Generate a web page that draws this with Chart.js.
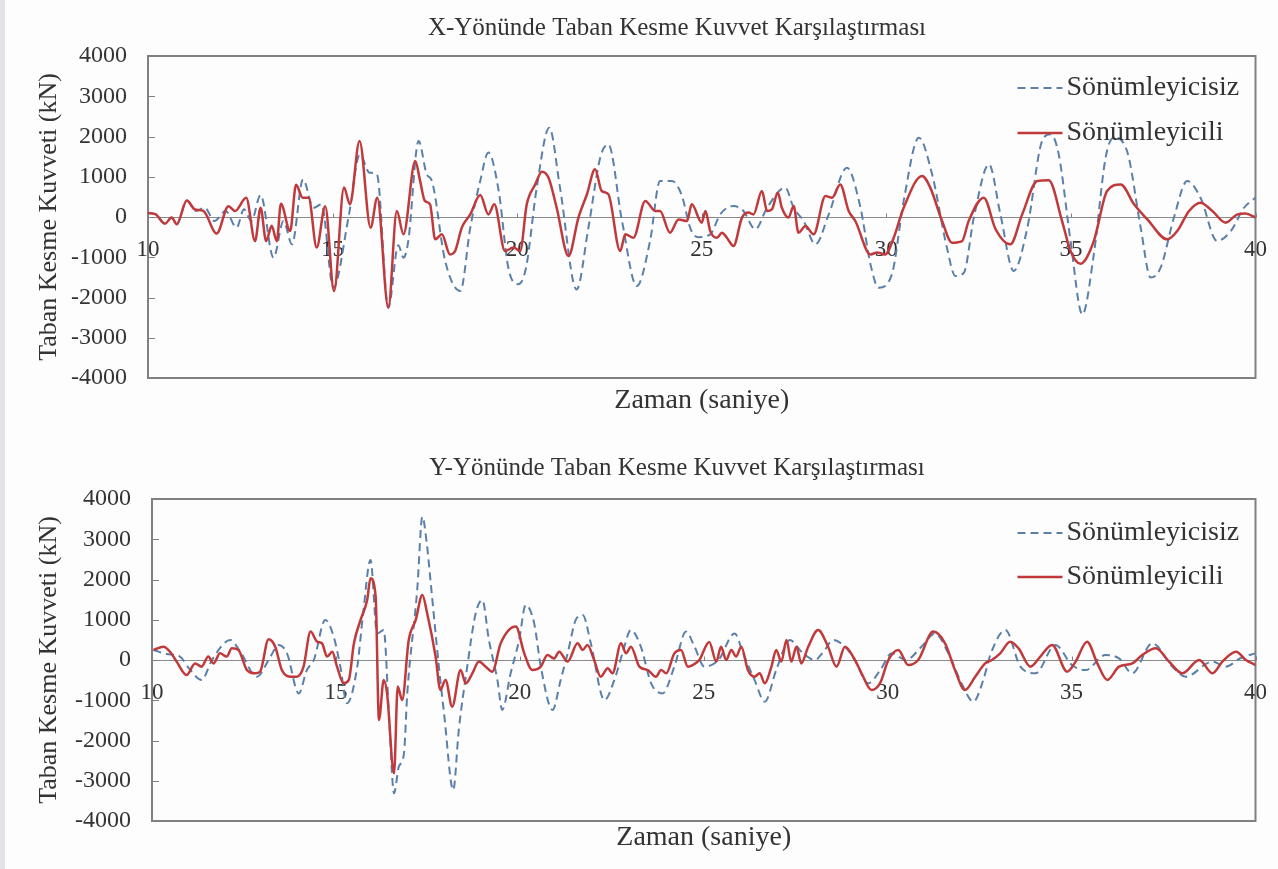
<!DOCTYPE html>
<html>
<head>
<meta charset="utf-8">
<script src="https://cdn.jsdelivr.net/npm/chart.js@4.4.1/dist/chart.umd.min.js"></script>
<style>
  body { margin: 0; width: 1278px; height: 869px; overflow: hidden; position: relative; background: #fdfdfd; }
  #edge { position: absolute; left: 0; top: 0; width: 5px; height: 869px; background: #e3e4e7; }
  .panel { position: absolute; left: 0; width: 1278px; }
</style>
</head>
<body>
<div id="edge"></div>
<div class="panel" style="top:0;height:432px"><canvas id="chartX" width="1278" height="432"></canvas></div>
<div class="panel" style="top:438px;height:431px"><canvas id="chartY" width="1278" height="431"></canvas></div>

<script>
// time (s) and base shear (kN), X direction
const xDampedTime = [
  10.0, 10.2, 10.46, 10.64, 10.78, 11.05, 11.27, 11.5, 11.86, 12.18,
  12.36, 12.66, 12.9, 13.05, 13.2, 13.35, 13.49, 13.6, 13.85, 14.01,
  14.19, 14.35, 14.57, 14.8, 15.04, 15.31, 15.47, 15.73, 16.03, 16.21,
  16.51, 16.74, 16.92, 17.24, 17.37, 17.5, 17.64, 17.78, 17.96, 18.18,
  18.32, 18.5, 18.73, 19.0, 19.22, 19.38, 19.67, 19.9, 20.08, 20.26,
  20.49, 20.67, 20.85, 21.07, 21.39, 21.66, 21.89, 22.11, 22.29, 22.47,
  22.79, 22.93, 23.15, 23.47, 23.74, 23.87, 24.14, 24.37, 24.6, 24.73,
  25.0, 25.1, 25.23, 25.41, 25.55, 25.68, 25.86, 26.09, 26.27, 26.4,
  26.63, 26.77, 26.9, 27.06, 27.17, 27.35, 27.49, 27.62, 27.81, 28.03,
  28.35, 28.53, 28.75, 28.98, 29.16, 29.57, 29.75, 29.97, 30.2, 30.47,
  30.97, 31.19, 31.51, 31.78, 32.05, 32.23, 32.64, 32.96, 33.36, 33.68,
  34.09, 34.4, 34.76, 34.99, 35.26, 35.62, 35.98, 36.35, 36.71, 37.07,
  37.61, 37.88, 38.2, 38.51, 38.83, 39.19, 39.51, 39.73, 40.0
];
const xDampedForce = [
  100, 70, -165, -15, -180, 410, 190, 150, -410, 270,
  150, 480, -600, 230, -600, -220, -600, 330, -350, 800,
  480, 480, -760, 270, -1840, 730, 315, 1890, -265, 480,
  -2250, 150, -430, 1390, 900, 400, 315, -555, -430, -930,
  -845, -265, 65, 545, 65, 315, -845, -760, -845, 315,
  810, 1125, 975, 230, -970, -15, 565, 1185, 645, 565,
  -845, -430, -515, 400, 150, 150, -390, -60, -100, 315,
  -140, 150, -350, -515, -390, -515, -720, -15, 110, 65,
  645, 150, 190, 605, 230, -15, 275, -390, -225, -430,
  520, 480, 810, 150, -100, -930, -885, -930, -515, 230,
  1020, 730, -100, -640, -600, -100, 480, -305, -680, 65,
  895, 910, -100, -845, -1160, -600, 645, 810, 315, -60,
  -555, -350, 150, 355, 150, -140, 65, 85, -15
];
const xUndampedTime = [
  10.0, 10.2, 10.46, 10.64, 10.78, 11.05, 11.3, 11.54, 11.8, 12.1,
  12.4, 12.6, 12.8, 13.05, 13.4, 13.67, 13.9, 14.2, 14.48, 14.7,
  15.02, 15.43, 15.74, 16.0, 16.2, 16.51, 16.78, 16.92, 17.05, 17.33,
  17.55, 17.69, 18.05, 18.46, 18.73, 19.0, 19.22, 19.5, 19.76, 20.03,
  20.24, 20.53, 20.87, 21.16, 21.61, 21.93, 22.25, 22.47, 22.84, 23.24,
  23.6, 23.87, 24.19, 24.45, 24.7, 24.9, 25.23, 25.5, 25.86, 26.13,
  26.45, 26.77, 27.26, 27.49, 27.76, 28.08, 28.44, 28.93, 29.3, 29.57,
  29.79, 30.15, 30.47, 30.88, 31.24, 31.64, 31.87, 32.1, 32.37, 32.78,
  33.09, 33.45, 33.82, 34.22, 34.45, 34.67, 34.99, 35.31, 35.62, 35.94,
  36.16, 36.52, 36.89, 37.16, 37.43, 37.79, 38.15, 38.51, 38.96, 39.33,
  39.69, 40.0
];
const xUndampedForce = [
  100, 70, -165, -15, -180, 410, 150, 230, -100, 150,
  -265, 190, -100, 545, -1010, -100, -680, 935, 230, 315,
  -1755, -15, 1555, 1100, 1060, -2250, -700, -1010, -600, 1890,
  1060, 895, -1095, -1840, -265, 900, 1600, 645, -1260, -1670,
  -1260, 730, 2220, 730, -1800, -265, 1475, 1805, -100, -1715,
  -595, 895, 895, 560, -300, -500, -430, 65, 275, 150,
  -305, 230, 730, 230, -100, -680, 65, 1225, 230, -1175,
  -1755, -1425, 400, 1970, 1060, -760, -1465, -1385, -15, 1310,
  65, -1340, -265, 1890, 2055, 1555, -595, -2420, -930, 1475,
  1970, 1640, -265, -1505, -1260, -15, 895, 480, -595, -350,
  230, 480
];

// time (s) and base shear (kN), Y direction
const yDampedTime = [
  10.04, 10.31, 10.49, 10.67, 10.94, 11.17, 11.35, 11.53, 11.67, 11.85,
  12.03, 12.17, 12.35, 12.58, 12.81, 12.94, 13.17, 13.35, 13.53, 13.76,
  13.94, 14.12, 14.31, 14.49, 14.62, 14.76, 14.9, 15.03, 15.21, 15.35,
  15.49, 15.67, 15.85, 15.94, 16.08, 16.17, 16.3, 16.39, 16.58, 16.68,
  16.8, 16.98, 17.17, 17.35, 17.48, 17.71, 17.84, 17.98, 18.16, 18.39,
  18.53, 18.71, 18.89, 19.07, 19.25, 19.48, 19.89, 20.12, 20.34, 20.57,
  20.75, 20.93, 21.07, 21.3, 21.57, 21.71, 21.84, 22.02, 22.2, 22.39,
  22.52, 22.75, 22.89, 23.02, 23.25, 23.48, 23.7, 23.84, 23.98, 24.2,
  24.38, 24.57, 24.7, 24.88, 25.15, 25.34, 25.47, 25.61, 25.75, 25.88,
  26.02, 26.2, 26.38, 26.52, 26.66, 26.84, 26.97, 27.11, 27.25, 27.38,
  27.52, 27.65, 27.84, 28.11, 28.38, 28.61, 28.84, 29.11, 29.29, 29.56,
  29.79, 30.02, 30.29, 30.56, 30.83, 31.24, 31.56, 31.83, 32.1, 32.38,
  32.65, 32.83, 33.06, 33.33, 33.56, 33.88, 34.15, 34.47, 34.88, 35.11,
  35.42, 35.7, 35.97, 36.29, 36.65, 36.92, 37.29, 37.65, 38.01, 38.47,
  38.83, 39.1, 39.47, 39.74, 40.0
];
const yDampedForce = [
  250, 330, 205, -40, -375, -85, -165, 85, -85, 165,
  85, 290, 250, -250, -330, -290, 515, 330, -250, -415,
  -415, -165, 705, 455, 415, 85, 205, -165, -580, -495,
  415, 995, 1490, 2030, 1575, -1490, -495, -830, -2815, -660,
  -995, 495, 995, 1615, 1160, 85, -745, -495, -1160, -250,
  -580, -330, -40, -165, -290, 415, 830, 165, -250, -165,
  125, 40, 205, -40, 415, 250, 375, 0, -415, -205,
  -330, 415, 165, 330, -165, -250, -415, -250, -330, 165,
  250, -165, -125, 0, 450, -40, 330, 0, 250, 85,
  330, -250, -415, -330, -580, -165, 250, -40, 495, -40,
  330, -85, 330, 745, 330, -165, 330, 0, -330, -745,
  -580, 0, 250, -125, 0, 705, 415, -250, -745, -415,
  -85, 0, 165, 455, 290, -165, 85, 375, -290, -40,
  455, -85, -495, -165, -85, 125, 290, -40, -330, 0,
  -330, -40, 205, 0, -125
];
const yUndampedTime = [
  10.04, 10.4, 10.76, 11.0, 11.35, 11.63, 12.13, 12.4, 12.85, 13.22,
  13.44, 13.67, 13.99, 14.21, 14.4, 14.71, 14.94, 15.12, 15.3, 15.58,
  15.74, 15.94, 16.12, 16.3, 16.44, 16.58, 16.71, 16.85, 16.94, 17.21,
  17.35, 17.48, 17.57, 17.8, 17.94, 18.19, 18.34, 18.57, 18.8, 18.98,
  19.16, 19.39, 19.52, 19.75, 19.98, 20.16, 20.39, 20.57, 20.89, 21.11,
  21.3, 21.52, 21.71, 21.93, 22.3, 22.57, 22.79, 23.02, 23.29, 23.57,
  23.88, 24.2, 24.52, 24.75, 25.02, 25.4, 25.84, 26.07, 26.38, 26.66,
  26.97, 27.34, 27.7, 28.02, 28.25, 28.52, 28.84, 29.11, 29.47, 29.8,
  30.11, 30.5, 30.92, 31.29, 31.65, 32.01, 32.33, 32.6, 32.8, 33.2,
  33.61, 34.02, 34.56, 35.01, 35.38, 35.92, 36.29, 36.65, 37.19, 37.74,
  38.1, 38.83, 39.19, 39.6, 40.0
];
const yUndampedForce = [
  250, 150, 85, -200, -495, 0, 495, 205, -415, 85,
  375, 165, -830, -250, 0, 995, 580, -165, -1075, -165,
  1160, 2485, 660, 745, -1325, -3310, -2650, -2320, -830, 1740,
  3560, 2815, 1985, -165, -1325, -3230, -1740, -165, 1160, 1490,
  495, -495, -1240, -330, 495, 1365, 910, -165, -1240, -495,
  165, 995, 1120, 415, -995, -495, 165, 745, 330, -580,
  -830, -165, 705, 330, -165, 0, 660, 165, -495, -1035,
  -250, 495, 165, 0, 200, 495, 330, 0, -580, -250,
  165, 0, 330, 660, 165, -580, -1035, -495, 150, 745,
  -165, -330, 375, -125, -250, 125, 40, -330, 415, -165,
  -415, -40, -165, 50, 165
];

const timeTicks = [10, 15, 20, 25, 30, 35, 40];
const forceTicks = [-4000, -3000, -2000, -1000, 0, 1000, 2000, 3000, 4000];
const seriesNames = ['Sönümleyicisiz', 'Sönümleyicili'];

const SERIF = "'Liberation Serif', 'Times New Roman', serif";
const INK = '#333333';
const BLUE = '#5a80aa';
const RED = '#c0393b';
const FRAME = '#808080';

function toPoints(times, values) {
  return times.map((t, i) => ({ x: t, y: values[i] }));
}

// plot frame, inward y ticks and small x ticks on the zero line
const framePlugin = {
  id: 'frame',
  beforeDatasetsDraw(chart) {
    const { ctx, chartArea: a, scales: { x, y } } = chart;
    ctx.save();
    ctx.strokeStyle = FRAME;
    ctx.lineWidth = 1;
    forceTicks.forEach(v => {
      const py = Math.round(y.getPixelForValue(v)) + 0.5;
      ctx.beginPath(); ctx.moveTo(a.left, py); ctx.lineTo(a.left + 7, py); ctx.stroke();
    });
    const zero = Math.round(y.getPixelForValue(0)) + 0.5;
    timeTicks.forEach(t => {
      const px = Math.round(x.getPixelForValue(t)) + 0.5;
      ctx.beginPath(); ctx.moveTo(px, zero); ctx.lineTo(px, zero - 4); ctx.stroke();
    });
    ctx.lineWidth = 2;
    ctx.strokeRect(a.left, a.top, a.right - a.left, a.bottom - a.top);
    ctx.restore();
  }
};

// chart heading, set a little left of the plot centre
const headingPlugin = {
  id: 'heading',
  afterDraw(chart, args, opts) {
    const { ctx } = chart;
    ctx.save();
    ctx.font = '25px ' + SERIF;
    ctx.fillStyle = INK;
    ctx.textAlign = 'center';
    ctx.textBaseline = 'middle';
    ctx.fillText(opts.text, opts.x, opts.y);
    ctx.restore();
  }
};

// legend inside the plot, top right, with line samples
const lineLegend = {
  id: 'lineLegend',
  afterDraw(chart, args, opts) {
    const { ctx, chartArea: a } = chart;
    ctx.save();
    ctx.font = '28px ' + SERIF;
    ctx.fillStyle = INK;
    ctx.textBaseline = 'middle';
    chart.data.datasets.forEach((ds, i) => {
      const yy = a.top + opts.rows[i];
      ctx.strokeStyle = ds.borderColor;
      ctx.lineWidth = ds.borderWidth;
      ctx.setLineDash(ds.borderDash || []);
      ctx.beginPath(); ctx.moveTo(a.right - 238, yy); ctx.lineTo(a.right - 193, yy); ctx.stroke();
      ctx.setLineDash([]);
      ctx.fillText(ds.label, a.right - 189, yy);
    });
    ctx.restore();
  }
};

function makePanel(id, p) {
  return new Chart(document.getElementById(id), {
    type: 'line',
    data: {
      datasets: [
        {
          label: seriesNames[0],
          data: toPoints(p.undampedTime, p.undampedForce),
          borderColor: BLUE, borderWidth: 2, borderDash: [8, 5],
          pointRadius: 0, cubicInterpolationMode: 'monotone', order: 2
        },
        {
          label: seriesNames[1],
          data: toPoints(p.dampedTime, p.dampedForce),
          borderColor: RED, borderWidth: 2.5,
          pointRadius: 0, cubicInterpolationMode: 'monotone', order: 1
        }
      ]
    },
    options: {
      responsive: false,
      animation: false,
      layout: { padding: { left: 0, right: p.right, top: p.top, bottom: 0 } },
      plugins: {
        legend: { display: false },
        tooltip: { enabled: false },
        title: { display: false },
        subtitle: {
          display: true, position: 'bottom', fullSize: false,
          text: 'Zaman (saniye)', color: INK,
          font: { family: SERIF, size: 28 },
          padding: p.xTitlePad
        },
        heading: { text: p.title, x: 677, y: p.titleY },
        lineLegend: { rows: p.legendRows }
      },
      scales: {
        x: {
          type: 'linear', min: 10, max: 40,
          position: { y: 0 },
          afterBuildTicks: s => { s.ticks = timeTicks.map(v => ({ value: v })); },
          grid: { display: false },
          border: { display: true, color: '#8a8a8a', width: 1 },
          ticks: { color: INK, padding: 11, maxRotation: 0, font: { family: SERIF, size: 23 }, callback: v => String(v) }
        },
        y: {
          min: -4000, max: 4000,
          afterBuildTicks: s => { s.ticks = forceTicks.map(v => ({ value: v })); },
          afterFit: s => { s.width = p.left; },
          grid: { display: false },
          border: { display: false },
          ticks: { color: INK, padding: 13, font: { family: SERIF, size: 24 }, callback: v => String(v) },
          title: {
            display: true, text: 'Taban Kesme Kuvveti (kN)', color: INK,
            font: { family: SERIF, size: 26 },
            padding: { top: 34, bottom: 0 }
          }
        }
      }
    },
    plugins: [framePlugin, headingPlugin, lineLegend]
  });
}

makePanel('chartX', {
  title: 'X-Yönünde Taban Kesme Kuvvet Karşılaştırması',
  dampedTime: xDampedTime, dampedForce: xDampedForce,
  undampedTime: xUndampedTime, undampedForce: xUndampedForce,
  left: 148, right: 18, top: 56, titleY: 28,
  xTitlePad: { top: 6.2, bottom: 14.2 },
  legendRows: [32, 77]
});

makePanel('chartY', {
  title: 'Y-Yönünde Taban Kesme Kuvvet Karşılaştırması',
  dampedTime: yDampedTime, dampedForce: yDampedForce,
  undampedTime: yUndampedTime, undampedForce: yUndampedForce,
  left: 152, right: 19, top: 61, titleY: 30,
  xTitlePad: { top: 0.2, bottom: 14.2 },
  legendRows: [34, 78]
});
</script>
</body>
</html>
